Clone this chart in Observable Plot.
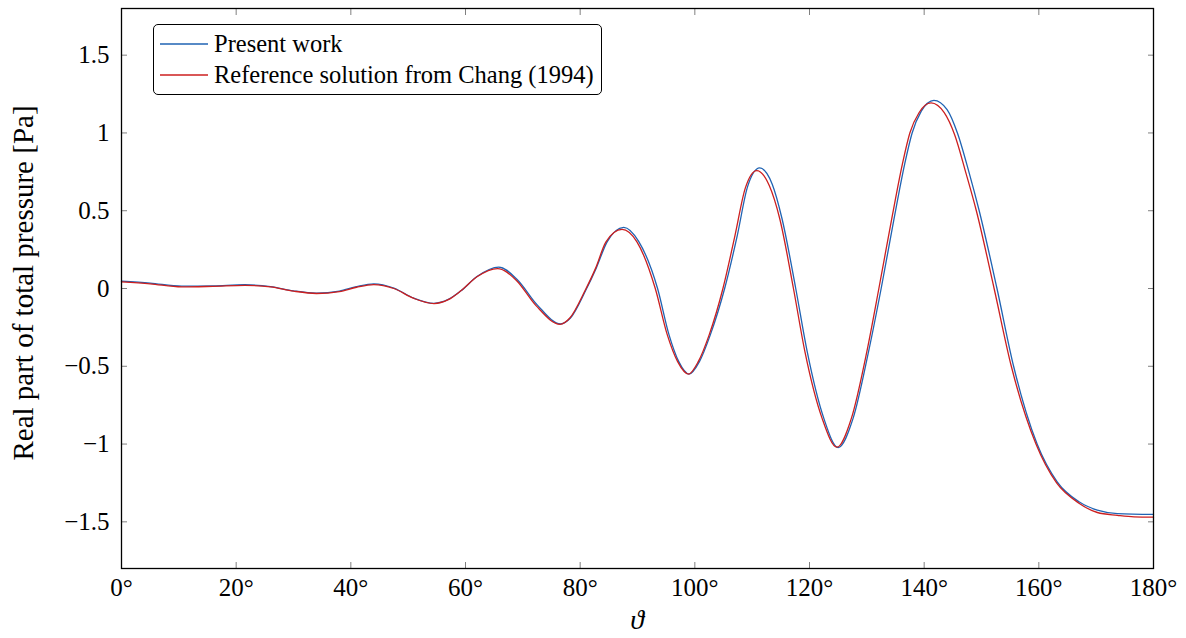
<!DOCTYPE html>
<html>
<head>
<meta charset="utf-8">
<script src="https://cdn.jsdelivr.net/npm/d3@7"></script>
<script src="https://cdn.jsdelivr.net/npm/@observablehq/plot@0.6"></script>
<style>
  html, body { margin: 0; padding: 0; background: #fff; }
  #wrap { position: relative; width: 1186px; height: 638px; font-family: "Liberation Serif", serif; }
  #legend { position: absolute; left: 153px; top: 24px; width: 447px; height: 69px; border: 1.2px solid #000; border-radius: 5px; background: #fff; }
  .entry { position: absolute; left: 6px; height: 30px; display: flex; align-items: center; font-size: 24.5px; color: #000; white-space: nowrap; }
  .entry svg { margin-right: 6px; }
  #xlabel { position: absolute; left: 637px; top: 620px; transform: translate(-50%, -50%); font-size: 28px; font-style: italic; line-height: 1; }
  #ylabel { position: absolute; left: 23px; top: 283px; transform: translate(-50%, -50%) rotate(-90deg); font-size: 29px; white-space: nowrap; line-height: 1; }
</style>
</head>
<body>
<div id="wrap"></div>
<script>
// x: polar angle in degrees; y: real part of total pressure [Pa]
const presentDeg = [0, 5, 10.5, 16, 21.5, 26, 30, 34, 38, 41, 44, 47.5, 51, 54.5, 57, 59.3, 62, 65.8, 69, 72.5, 76.6, 78.3, 81.0, 82.8, 84.7, 87.6, 90.2, 93.5, 95.5, 97.2, 99, 100.8, 102.7, 105.2, 107.4, 109.2, 111.3, 113.5, 115.2, 117.6, 119.6, 122.5, 125, 127.6, 130.3, 132.5, 134.7, 136.6, 137.9, 139.5, 141.7, 144, 145.8, 147.8, 149.6, 152.7, 155.6, 159.7, 163.2, 167, 170.2, 173.7, 180];
const presentVal = [0.048, 0.035, 0.015, 0.017, 0.024, 0.012, -0.015, -0.03, -0.017, 0.012, 0.03, 0.003, -0.062, -0.095, -0.07, -0.012, 0.077, 0.138, 0.058, -0.105, -0.228, -0.19, -0.01, 0.131, 0.3, 0.393, 0.303, 0, -0.298, -0.47, -0.55, -0.47, -0.298, 0, 0.34, 0.655, 0.775, 0.67, 0.45, 0, -0.406, -0.835, -1.022, -0.835, -0.406, 0, 0.44, 0.8, 1.0, 1.14, 1.21, 1.15, 1.0, 0.75, 0.5, 0, -0.5, -1.0, -1.243, -1.371, -1.425, -1.447, -1.452];

const changDeg = [0, 5, 10.5, 16, 21.5, 26, 30, 34, 38, 41, 44, 47.5, 51, 54.5, 57, 59.2, 62, 65.6, 68.8, 72.3, 76.5, 78.2, 80.9, 82.7, 84.5, 87.3, 89.9, 93.1, 95.2, 97, 98.9, 100.6, 102.5, 104.9, 107, 108.8, 110.8, 113, 114.8, 117.2, 119.2, 122.2, 124.8, 127.3, 130, 132.1, 134.3, 136.2, 137.5, 139.1, 141.2, 143.5, 145.3, 147.3, 149.1, 152.2, 155.2, 159.5, 163.1, 167, 170.2, 173.7, 176.6, 180];
const changVal = [0.043, 0.03, 0.01, 0.014, 0.02, 0.01, -0.017, -0.032, -0.02, 0.008, 0.025, 0, -0.064, -0.097, -0.072, -0.015, 0.075, 0.128, 0.055, -0.11, -0.23, -0.19, -0.01, 0.131, 0.3, 0.38, 0.3, 0, -0.298, -0.47, -0.55, -0.47, -0.298, 0, 0.34, 0.645, 0.758, 0.66, 0.45, 0, -0.406, -0.835, -1.02, -0.835, -0.406, 0, 0.44, 0.8, 1.0, 1.13, 1.193, 1.13, 0.99, 0.74, 0.5, 0, -0.5, -1.0, -1.25, -1.38, -1.44, -1.458, -1.468, -1.47];

const seriesNames = ["Present work", "Reference solution from Chang (1994)"];
const seriesColors = ["#1f63b3", "#cc1f1f"];
const xTicks = [0, 20, 40, 60, 80, 100, 120, 140, 160, 180];
const yTicks = [-1.5, -1, -0.5, 0, 0.5, 1, 1.5];
const xDomain = [0, 180];
const yDomain = [-1.8, 1.8];

const present = presentDeg.map((d, i) => ({deg: d, p: presentVal[i]}));
const chang = changDeg.map((d, i) => ({deg: d, p: changVal[i]}));

const fmtY = d => (d < 0 ? "\u2212" : "") + Math.abs(d);
const tickColor = "#808080";

const chart = Plot.plot({
  width: 1186,
  height: 638,
  marginLeft: 121,
  marginRight: 33,
  marginTop: 8,
  marginBottom: 70,
  x: {domain: xDomain},
  y: {domain: yDomain},
  style: {fontSize: "25px", color: "#000", background: "#fff", overflow: "visible"},
  marks: [
    Plot.line(present, {x: "deg", y: "p", stroke: seriesColors[0], strokeWidth: 1.3, curve: "monotone-x"}),
    Plot.line(chang, {x: "deg", y: "p", stroke: seriesColors[1], strokeWidth: 1.3, curve: "monotone-x"}),
    Plot.axisX({anchor: "bottom", ticks: xTicks, tickSize: -6, tickPadding: 16, stroke: tickColor, fill: "#000", tickFormat: d => d + "\u00b0", label: null}),
    Plot.axisX({anchor: "top", ticks: xTicks, tickSize: -6, stroke: tickColor, fill: "none", label: null}),
    Plot.axisY({anchor: "left", ticks: yTicks, tickSize: -6, tickPadding: 18, stroke: tickColor, fill: "#000", tickFormat: fmtY, label: null}),
    Plot.axisY({anchor: "right", ticks: yTicks, tickSize: -6, stroke: tickColor, fill: "none", label: null}),
    Plot.frame({stroke: "#000", strokeWidth: 1.3})
  ]
});

// serif face on all SVG text
chart.style.fontFamily = "'Liberation Serif', serif";
d3.select(chart).selectAll("g, text")
  .attr("font-family", null)
  .style("font-family", "'Liberation Serif', serif")
  .style("font-variant", "normal");

const wrap = document.getElementById("wrap");
wrap.appendChild(chart);

const legend = document.createElement("div");
legend.id = "legend";
seriesNames.forEach((name, i) => {
  const e = document.createElement("div");
  e.className = "entry";
  e.style.top = (4 + i * 31) + "px";
  e.innerHTML = `<svg width="48" height="4"><line x1="0" y1="2" x2="48" y2="2" stroke="${seriesColors[i]}" stroke-width="1.3"/></svg><span>${name}</span>`;
  legend.appendChild(e);
});
wrap.appendChild(legend);

const xl = document.createElement("div");
xl.id = "xlabel";
xl.textContent = "\u03d1";
wrap.appendChild(xl);

const yl = document.createElement("div");
yl.id = "ylabel";
yl.textContent = "Real part of total pressure [Pa]";
wrap.appendChild(yl);
</script>
</body>
</html>
